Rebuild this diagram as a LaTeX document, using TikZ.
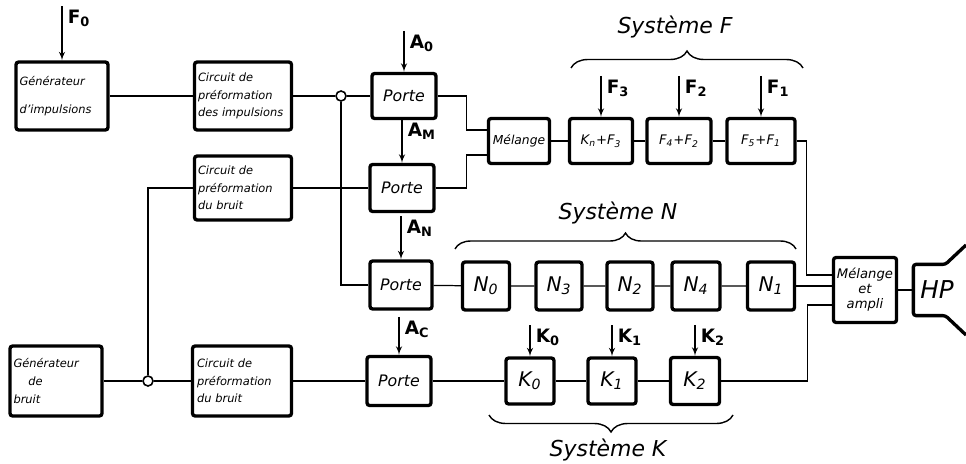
\documentclass[tikz,border=0pt]{standalone}
\usepackage{fontspec}
\setmainfont{DejaVu Sans}
\usetikzlibrary{arrows,calc,decorations.pathreplacing}

\tikzset{
  blk/.style={draw, line width=1.9pt, rounded corners=1.5pt, inner sep=2pt},
  sz/.style 2 args={minimum width=#1*0.02cm, minimum height=#2*0.02cm},
  txt/.style={font=\fontsize{6.5}{10}\selectfont\itshape, align=left, text width=1.8cm},
  prt/.style={font=\fontsize{9}{9}\selectfont\itshape},
  big/.style={font=\fontsize{11.5}{12}\selectfont\itshape},
  sml/.style={font=\fontsize{7.5}{8.5}\selectfont\itshape},
  ctl/.style={-latex', line width=0.7pt},
  lab/.style={font=\fontsize{10.5}{11}\selectfont\bfseries, anchor=north west, inner sep=0pt, xshift=3pt, yshift=-2pt},
  sys/.style={font=\fontsize{12.5}{13}\selectfont\itshape},
  jct/.style={circle, draw, fill=white, inner sep=0pt, minimum size=0.2cm, line width=0.9pt},
  brc/.style={decorate, decoration={brace, amplitude=#1}, line width=0.8pt},
}

\begin{document}
\begin{tikzpicture}[x=0.02cm, y=-0.02cm, line width=0.7pt]
\useasboundingbox (0,0) rectangle (966,463);

\node[blk,txt,sz={92}{68},text width=1.7cm] (gi) at (62,96) {Générateur\\[6pt]d'impulsions};
\node[blk,txt,sz={97}{68}] (cpi) at (243,96) {Circuit de\\préformation\\des impulsions};
\node[jct] (jc1) at (341,96) {};
\node[blk,prt,sz={64}{45}] (p0) at (404,96) {Porte};
\node[blk,txt,sz={97}{64}] (cpb) at (243,188) {Circuit de\\préformation\\du bruit};
\node[blk,prt,sz={64}{47}] (pm) at (402,188) {Porte};
\node[blk,font=\fontsize{7}{8}\selectfont\itshape,sz={61}{45}] (mel) at (519,141) {Mélange};
\node[blk,sml,sz={63}{45}] (f3) at (601,141) {K\textsubscript{n}+F\textsubscript{3}};
\node[blk,sml,sz={64}{45}] (f2) at (679,141) {F\textsubscript{4}+F\textsubscript{2}};
\node[blk,sml,sz={68}{45}] (f1) at (761,141) {F\textsubscript{5}+F\textsubscript{1}};

\node[blk,prt,sz={62}{48}] (pn) at (401,285) {Porte};
\node[blk,big,sz={47}{48}] (n0) at (486,286) {N\textsubscript{0}};
\node[blk,big,sz={46}{48}] (n3) at (559,286) {N\textsubscript{3}};
\node[blk,big,sz={46}{48}] (n2) at (630,286) {N\textsubscript{2}};
\node[blk,big,sz={48}{48}] (n4) at (696,286) {N\textsubscript{4}};
\node[blk,big,sz={47}{48}] (n1) at (771,286) {N\textsubscript{1}};
\node[blk,sml,align=center,sz={60}{65}] (ma) at (865,290) {Mélange\\et\\ampli};
\node[font=\fontsize{14}{14}\selectfont\itshape,sz={46}{50},inner sep=0pt] (hp) at (937,290) {HP};
\draw[line width=1.9pt, rounded corners=1.5pt] (966,245) -- ($(hp.north west)+(32,0)$) -- (hp.north west)
  -- (hp.south west) -- ($(hp.south west)+(32,0)$) -- (966,335);

\node[blk,txt,sz={92}{70},text width=1.7cm] (gb) at (56,381) {Générateur\\\hspace*{1.3em}de\\bruit};
\node[jct] (jc2) at (148,381) {};
\node[blk,txt,sz={99}{70}] (cpb2) at (242,381) {Circuit de\\préformation\\du bruit};
\node[blk,prt,sz={64}{49}] (pc) at (399,381) {Porte};
\node[blk,big,sz={48}{46}] (k0) at (530,381) {K\textsubscript{0}};
\node[blk,big,sz={48}{46}] (k1) at (612,381) {K\textsubscript{1}};
\node[blk,big,sz={49}{47}] (k2) at (695,381) {K\textsubscript{2}};

\draw (gi) -- (cpi) -- (jc1) -- (p0);
\draw (jc1) -- (jc1 |- pn) -- (pn);
\draw (p0.east) -- ++(29,0) |- ($(mel.west)+(0,-11)$);
\draw (pm.east) -- ++(31,0) |- ($(mel.west)+(0,14)$);
\draw (jc2) -- (jc2 |- cpb) -- (cpb) -- (pm);
\draw (mel) -- (f3) -- (f2) -- (f1);
\draw (f1.east) -- ++(10,0) |- ($(ma.west)+(0,-15)$);
\draw (pn) -- (n0) -- (n3) -- (n2) -- (n4) -- (n1);
\draw (n1.east) -- (n1.east -| ma.west);
\draw (ma.east) -- (ma.east -| hp.west);
\draw (gb) -- (jc2) -- (cpb2) -- (pc) -- (k0) -- (k1) -- (k2);
\draw (k2.east) -- ++(86,0) |- ($(ma.west)+(0,15)$);

\draw[ctl] (gi.north) ++(0,-54) node[lab]{F\textsubscript{0}} -- (gi.north);
\draw[ctl] (p0.north) ++(0,-41) node[lab]{A\textsubscript{0}} -- (p0.north);
\draw[ctl] (pm.north) ++(0,-44) node[lab]{A\textsubscript{M}} -- (pm.north);
\draw[ctl] (pn.north) ++(0,-43) node[lab]{A\textsubscript{N}} -- (pn.north);
\draw[ctl] (pc.north) ++(0,-38) node[lab]{A\textsubscript{C}} -- (pc.north);
\draw[ctl] (f3.north) ++(0,-41) node[lab]{F\textsubscript{3}} -- (f3.north);
\draw[ctl] (f2.north) ++(0,-41) node[lab]{F\textsubscript{2}} -- (f2.north);
\draw[ctl] (f1.north) ++(0,-41) node[lab]{F\textsubscript{1}} -- (f1.north);
\draw[ctl] (k0.north) ++(0,-31) node[lab]{K\textsubscript{0}} -- (k0.north);
\draw[ctl] (k1.north) ++(0,-31) node[lab]{K\textsubscript{1}} -- (k1.north);
\draw[ctl] (k2.north) ++(0,-31) node[lab]{K\textsubscript{2}} -- (k2.north);

\draw[brc=0.34cm] (571,68) -- (803,68);
\draw[brc=0.32cm] (455,249) -- (796,249);
\draw[brc=0.34cm] (733,415) -- (489,415);
\node[sys] (sysf) at (675,27) {Système F};
\node[sys] (sysn) at (618,213) {Système N};
\node[sys] (sysk) at (608,450) {Système K};
\end{tikzpicture}
\end{document}
